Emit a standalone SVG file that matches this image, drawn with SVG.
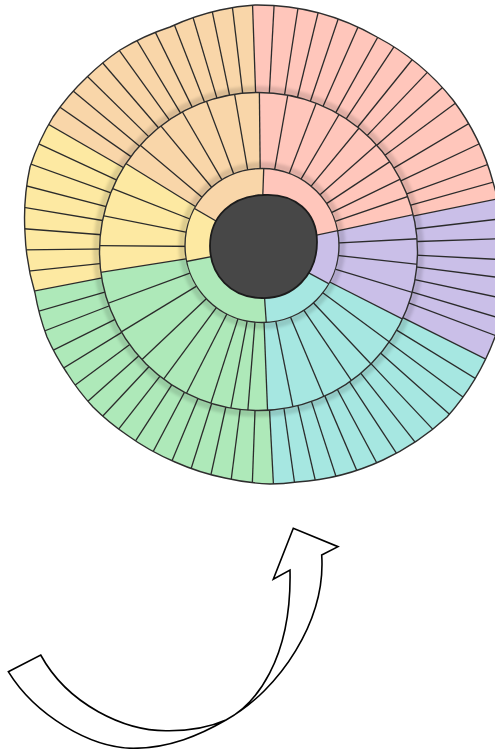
<svg xmlns="http://www.w3.org/2000/svg" xmlns:xlink="http://www.w3.org/1999/xlink" width="495" height="749" viewBox="0 0 495 749">
<style>
.ln{stroke:#2b2b2b;stroke-width:1.3;fill:none}
.sec{fill:none;stroke-width:264}
.pk{stroke:#FFC6BB}.lv{stroke:#CABFE8}.cy{stroke:#A6E7E1}.gr{stroke:#AEE9B9}.ye{stroke:#FDE9A2}
.edge{fill:none;stroke:#2e2e2e;stroke-width:1.4}
.shadow{fill:none;stroke:#000;stroke-opacity:0.13;stroke-width:7}
</style>
<defs>
<filter id="blur" x="-20%" y="-20%" width="140%" height="140%"><feGaussianBlur stdDeviation="1.8"/></filter>
<path id="outerShape" d="M255 5 A240 240 0 0 1 377 37 A240 240 0 0 1 453 100 A240 240 0 0 1 493 182 A240 240 0 0 1 503 260 A240 240 0 0 1 495 337 A250 250 0 0 1 447 417 A250 250 0 0 1 383 460 A240 240 0 0 1 297 482 A240 240 0 0 1 270 484 A240 240 0 0 1 225 478 A240 240 0 0 1 175 462 A240 240 0 0 1 127 435 A240 240 0 0 1 93 407 A240 240 0 0 1 67 373 A240 240 0 0 1 47 337 A240 240 0 0 1 35 293 A240 240 0 0 1 25 233 A240 240 0 0 1 30 167 A240 240 0 0 1 53 117 A240 240 0 0 1 87 77 A240 240 0 0 1 120 50 A240 240 0 0 1 170 27 A240 240 0 0 1 220 10 A240 240 0 0 1 255 5 Z"/>
<clipPath id="cOuter"><use href="#outerShape"/></clipPath>
<clipPath id="cMid"><circle cx="258.5" cy="251.5" r="159"/></clipPath>
<clipPath id="cIn"><circle cx="262" cy="245.5" r="77"/></clipPath>
<line id="ol" class="ln" x1="0" y1="-150" x2="0" y2="-275"/>
<line id="ml" class="ln" x1="0" y1="-60" x2="0" y2="-175"/>
<line id="il" class="ln" x1="0" y1="-40" x2="0" y2="-95"/>
</defs>

<g id="outer-ring" clip-path="url(#cOuter)">
<g transform="translate(261 247)">
<circle r="264" fill="#F9D6A9"/>
<circle class="sec pk" r="132" pathLength="360" stroke-dasharray="80.5 360" transform="rotate(-92)"/>
<circle class="sec lv" r="132" pathLength="360" stroke-dasharray="38 360" transform="rotate(-11.5)"/>
<circle class="sec cy" r="132" pathLength="360" stroke-dasharray="60.5 360" transform="rotate(26.5)"/>
<circle class="sec gr" r="132" pathLength="360" stroke-dasharray="82 360" transform="rotate(87)"/>
<circle class="sec ye" r="132" pathLength="360" stroke-dasharray="41 360" transform="rotate(169)"/>
<g id="outer-lines">
<use href="#ol" transform="rotate(-2)"/><use href="#ol" transform="rotate(3.1)"/><use href="#ol" transform="rotate(8.8)"/><use href="#ol" transform="rotate(13.7)"/><use href="#ol" transform="rotate(18.7)"/><use href="#ol" transform="rotate(23.8)"/><use href="#ol" transform="rotate(29.1)"/><use href="#ol" transform="rotate(33.6)"/><use href="#ol" transform="rotate(38.9)"/><use href="#ol" transform="rotate(43.6)"/><use href="#ol" transform="rotate(48.7)"/><use href="#ol" transform="rotate(53.5)"/><use href="#ol" transform="rotate(59.3)"/><use href="#ol" transform="rotate(64.7)"/><use href="#ol" transform="rotate(70)"/><use href="#ol" transform="rotate(74.4)"/><use href="#ol" transform="rotate(78.5)"/>
<use href="#ol" transform="rotate(83.3)"/><use href="#ol" transform="rotate(88)"/><use href="#ol" transform="rotate(93)"/><use href="#ol" transform="rotate(97.3)"/><use href="#ol" transform="rotate(102)"/><use href="#ol" transform="rotate(106.6)"/><use href="#ol" transform="rotate(110.7)"/><use href="#ol" transform="rotate(116.5)"/>
<use href="#ol" transform="rotate(121.5)"/><use href="#ol" transform="rotate(126.6)"/><use href="#ol" transform="rotate(131.6)"/><use href="#ol" transform="rotate(136.7)"/><use href="#ol" transform="rotate(141.7)"/><use href="#ol" transform="rotate(146.7)"/><use href="#ol" transform="rotate(151.8)"/><use href="#ol" transform="rotate(156.8)"/><use href="#ol" transform="rotate(161.9)"/><use href="#ol" transform="rotate(166.9)"/><use href="#ol" transform="rotate(171.9)"/><use href="#ol" transform="rotate(177)"/>
<use href="#ol" transform="rotate(182.1)"/><use href="#ol" transform="rotate(187.3)"/><use href="#ol" transform="rotate(192.4)"/><use href="#ol" transform="rotate(197.5)"/><use href="#ol" transform="rotate(202.6)"/><use href="#ol" transform="rotate(207.8)"/><use href="#ol" transform="rotate(212.9)"/><use href="#ol" transform="rotate(218)"/><use href="#ol" transform="rotate(223.1)"/><use href="#ol" transform="rotate(228.3)"/><use href="#ol" transform="rotate(233.4)"/><use href="#ol" transform="rotate(238.5)"/><use href="#ol" transform="rotate(243.6)"/><use href="#ol" transform="rotate(248.8)"/><use href="#ol" transform="rotate(253.9)"/><use href="#ol" transform="rotate(259)"/>
<use href="#ol" transform="rotate(264.1)"/><use href="#ol" transform="rotate(269.3)"/><use href="#ol" transform="rotate(274.4)"/><use href="#ol" transform="rotate(279.5)"/><use href="#ol" transform="rotate(284.6)"/><use href="#ol" transform="rotate(289.8)"/><use href="#ol" transform="rotate(294.9)"/><use href="#ol" transform="rotate(300)"/>
<use href="#ol" transform="rotate(304.8)"/><use href="#ol" transform="rotate(309.7)"/><use href="#ol" transform="rotate(314.5)"/><use href="#ol" transform="rotate(319.3)"/><use href="#ol" transform="rotate(324.2)"/><use href="#ol" transform="rotate(329)"/><use href="#ol" transform="rotate(333.8)"/><use href="#ol" transform="rotate(338.7)"/><use href="#ol" transform="rotate(343.5)"/><use href="#ol" transform="rotate(348.3)"/><use href="#ol" transform="rotate(353.2)"/>
</g>
</g>
</g>
<use id="outer-edge" href="#outerShape" class="edge"/>

<circle id="mid-shadow" class="shadow" cx="258.5" cy="251.5" r="162" filter="url(#blur)"/>

<g id="middle-ring" clip-path="url(#cMid)">
<g transform="translate(261 247)">
<circle r="180" fill="#F9D6A9"/>
<circle class="sec pk" r="132" pathLength="360" stroke-dasharray="78.6 360" transform="rotate(-90.6)"/>
<circle class="sec lv" r="132" pathLength="360" stroke-dasharray="39 360" transform="rotate(-12)"/>
<circle class="sec cy" r="132" pathLength="360" stroke-dasharray="60.7 360" transform="rotate(27)"/>
<circle class="sec gr" r="132" pathLength="360" stroke-dasharray="83.3 360" transform="rotate(87.7)"/>
<circle class="sec ye" r="132" pathLength="360" stroke-dasharray="40.7 360" transform="rotate(171)"/>
<g id="middle-lines">
<use href="#ml" transform="rotate(-0.6)"/><use href="#ml" transform="rotate(10)"/><use href="#ml" transform="rotate(21)"/><use href="#ml" transform="rotate(30.5)"/><use href="#ml" transform="rotate(39.5)"/><use href="#ml" transform="rotate(48.5)"/><use href="#ml" transform="rotate(56.5)"/><use href="#ml" transform="rotate(64)"/><use href="#ml" transform="rotate(71)"/><use href="#ml" transform="rotate(78)"/>
<use href="#ml" transform="rotate(87)"/><use href="#ml" transform="rotate(96.3)"/><use href="#ml" transform="rotate(106.7)"/><use href="#ml" transform="rotate(117)"/>
<use href="#ml" transform="rotate(126.5)"/><use href="#ml" transform="rotate(136.8)"/><use href="#ml" transform="rotate(145.9)"/><use href="#ml" transform="rotate(157.2)"/><use href="#ml" transform="rotate(168.7)"/><use href="#ml" transform="rotate(177.7)"/>
<use href="#ml" transform="rotate(184.6)"/><use href="#ml" transform="rotate(190.6)"/><use href="#ml" transform="rotate(197.8)"/><use href="#ml" transform="rotate(207)"/><use href="#ml" transform="rotate(216.4)"/><use href="#ml" transform="rotate(226.6)"/><use href="#ml" transform="rotate(238.7)"/><use href="#ml" transform="rotate(249.8)"/><use href="#ml" transform="rotate(261)"/>
<use href="#ml" transform="rotate(270.5)"/><use href="#ml" transform="rotate(281.2)"/><use href="#ml" transform="rotate(291.5)"/><use href="#ml" transform="rotate(301.7)"/>
<use href="#ml" transform="rotate(310.1)"/><use href="#ml" transform="rotate(320.4)"/><use href="#ml" transform="rotate(329.8)"/><use href="#ml" transform="rotate(339.5)"/><use href="#ml" transform="rotate(350.2)"/>
</g>
</g>
</g>
<circle id="middle-edge" class="edge" cx="258.5" cy="251.5" r="159"/>

<circle id="inner-shadow" class="shadow" cx="262" cy="245.5" r="80" filter="url(#blur)"/>

<g id="inner-ring" clip-path="url(#cIn)">
<g transform="translate(261 247)">
<circle r="100" fill="#F9D6A9"/>
<circle class="sec pk" r="132" pathLength="360" stroke-dasharray="76 360" transform="rotate(-88)"/>
<circle class="sec lv" r="132" pathLength="360" stroke-dasharray="40.5 360" transform="rotate(-12)"/>
<circle class="sec cy" r="132" pathLength="360" stroke-dasharray="57.5 360" transform="rotate(28.5)"/>
<circle class="sec gr" r="132" pathLength="360" stroke-dasharray="83 360" transform="rotate(86)"/>
<circle class="sec ye" r="132" pathLength="360" stroke-dasharray="41 360" transform="rotate(169)"/>
<g id="inner-lines">
<use href="#il" transform="rotate(2)"/><use href="#il" transform="rotate(78)"/><use href="#il" transform="rotate(118.5)"/><use href="#il" transform="rotate(176)"/><use href="#il" transform="rotate(259)"/><use href="#il" transform="rotate(300)"/>
</g>
</g>
</g>
<circle id="inner-edge" class="edge" cx="262" cy="245.5" r="77"/>

<path id="core" d="M263 195 C295 193 317 212 317 242 C317 275 293 299 262 298 C231 298 210 275 210 246 C210 216 232 196 263 195 Z" fill="#474747" stroke="#1c1c1c" stroke-width="1.8"/>

<g id="connectors">
<path id="curved-arrow" d="M8.3 671.7 L40.7 655 C68 705 125 731 166.7 730.7 C190 731 210 727 226 720 C255 705 292 660 290 570 L273.3 579.3 L293.3 528.3 L338 546.7 L321.7 555 C326 620 280 690 226 720 C200 735 170 748 133.3 748.3 C90 748 35 715 8.3 671.7 Z" fill="#fff" stroke="#000" stroke-width="1.6" stroke-linejoin="miter"/>
</g>
</svg>
